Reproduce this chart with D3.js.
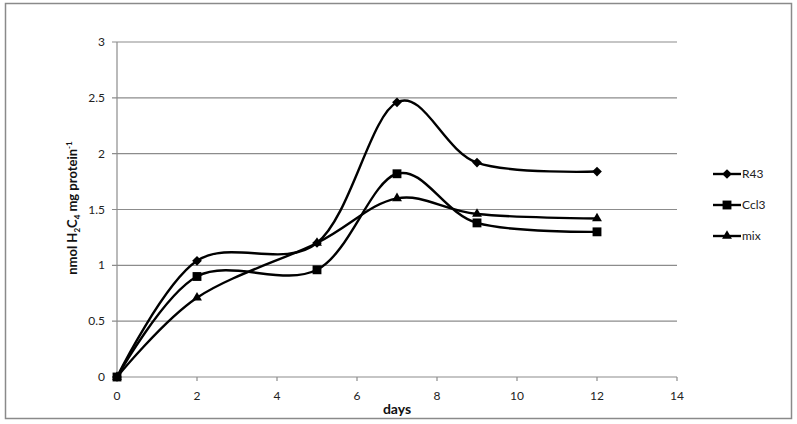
<!DOCTYPE html>
<html><head><meta charset="utf-8">
<script src="https://cdn.jsdelivr.net/npm/d3@7"></script>
<style>body{margin:0;background:#fff;}svg{display:block;font-family:Lato,"Open Sans","Liberation Sans",sans-serif;}</style>
</head><body>
<svg id="c" width="797" height="424"></svg>
<script>
const days = [0, 2, 5, 7, 9, 12];
const r43 = [0, 1.04, 1.2, 2.46, 1.92, 1.84];
const ccl3 = [0, 0.9, 0.96, 1.82, 1.38, 1.3];
const mix = [0, 0.71, 1.2, 1.6, 1.46, 1.42];
const seriesNames = ["R43", "Ccl3", "mix"];
const xTicks = [0, 2, 4, 6, 8, 10, 12, 14];
const yTicks = [0, 0.5, 1, 1.5, 2, 2.5, 3];

const svg = d3.select("#c");
const x = d3.scaleLinear().domain([0, 14]).range([117, 677]);
const y = d3.scaleLinear().domain([0, 3]).range([377, 42]);

svg.append("rect").attr("x", 5.5).attr("y", 3.5).attr("width", 786).attr("height", 415)
  .attr("fill", "none").attr("stroke", "#8a8a8a").attr("stroke-width", 1.5);

// gridlines
svg.append("g").selectAll("line").data(yTicks).join("line")
  .attr("x1", x(0) - 5).attr("x2", x(14)).attr("y1", d => y(d)).attr("y2", d => y(d))
  .attr("stroke", "#8c8c8c").attr("stroke-width", 1.2);
// y axis line
svg.append("line").attr("x1", x(0)).attr("x2", x(0)).attr("y1", y(3)).attr("y2", y(0))
  .attr("stroke", "#8c8c8c").attr("stroke-width", 1.2);
// x ticks
svg.append("g").selectAll("line").data(xTicks).join("line")
  .attr("x1", d => x(d)).attr("x2", d => x(d)).attr("y1", y(0)).attr("y2", y(0) + 4)
  .attr("stroke", "#8c8c8c").attr("stroke-width", 1.2);

svg.append("g").selectAll("text").data(yTicks).join("text")
  .attr("x", 105).attr("y", d => y(d) + 4).attr("text-anchor", "end")
  .attr("font-size", 12).attr("fill", "#222").text(d => d);
svg.append("g").selectAll("text").data(xTicks).join("text")
  .attr("x", d => x(d)).attr("y", 400).attr("text-anchor", "middle")
  .attr("font-size", 12).attr("fill", "#222").text(d => d);

svg.append("text").attr("x", 397).attr("y", 414).attr("text-anchor", "middle")
  .attr("font-size", 14).attr("font-weight", "bold").attr("fill", "#111").text("days");

const yl = svg.append("text").attr("transform", "translate(77,208) rotate(-90)")
  .attr("text-anchor", "middle").attr("font-size", 13).attr("font-weight", "bold").attr("fill", "#111");
yl.append("tspan").text("nmol H");
yl.append("tspan").attr("font-size", 8).attr("dy", 3).text("2");
yl.append("tspan").attr("dy", -3).text("C");
yl.append("tspan").attr("font-size", 8).attr("dy", 3).text("4");
yl.append("tspan").attr("dy", -3).text(" mg protein");
yl.append("tspan").attr("font-size", 8).attr("dy", -5).text("-1");

const data = [r43, ccl3, mix];
const symbols = [d3.symbolDiamond2, d3.symbolSquare2, d3.symbolTriangle2];
const symSizes = [60, 100, 70];
const line = d3.line().x((d, i) => x(days[i])).y(d => y(d)).curve(d3.curveCatmullRom.alpha(0));

data.forEach(vals => {
  svg.append("path").attr("d", line(vals)).attr("fill", "none")
    .attr("stroke", "#000").attr("stroke-width", 2.4);
});
[2, 0, 1].forEach(k => {
  svg.append("g").selectAll("path").data(data[k]).join("path")
    .attr("transform", (d, i) => `translate(${x(days[i])},${y(d)})`)
    .attr("d", d3.symbol(symbols[k], symSizes[k])).attr("fill", "#000");
});

// legend
const legY = [174, 205, 236];
seriesNames.forEach((n, k) => {
  svg.append("line").attr("x1", 713).attr("x2", 741).attr("y1", legY[k]).attr("y2", legY[k])
    .attr("stroke", "#000").attr("stroke-width", 2.4);
  svg.append("path").attr("transform", `translate(727,${legY[k]})`)
    .attr("d", d3.symbol(symbols[k], symSizes[k])).attr("fill", "#000");
  svg.append("text").attr("x", 742).attr("y", legY[k] + 4).attr("font-size", 12).attr("fill", "#222").text(n);
});
</script>
</body></html>
